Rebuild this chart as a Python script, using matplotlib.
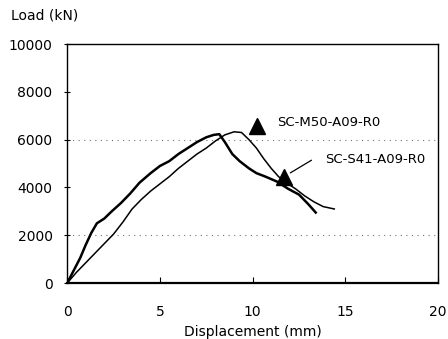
import matplotlib.pyplot as plt

# Curva 1 (pico temprano, mas rigida)
x1 = [0, 0.3, 0.7, 1.0, 1.3, 1.6, 2.0, 2.4, 2.9, 3.4, 3.9, 4.5, 5.0, 5.5, 6.0,
      6.5, 7.0, 7.5, 7.9, 8.2, 8.5, 8.9, 9.3, 9.8, 10.2, 10.7, 11.3, 11.9,
      12.5, 13.0, 13.4]
y1 = [0, 450, 1050, 1600, 2100, 2500, 2700, 3000, 3350, 3750, 4200, 4600,
      4900, 5100, 5400, 5650, 5900, 6100, 6200, 6230, 5900, 5400, 5100, 4800,
      4600, 4450, 4250, 3950, 3700, 3300, 2950]

# Curva 2 (pico tardio)
x2 = [0, 0.5, 1.0, 1.5, 2.0, 2.5, 3.0, 3.5, 4.0, 4.5, 5.0, 5.5, 6.0, 6.5,
      7.0, 7.5, 8.0, 8.5, 9.0, 9.4, 9.8, 10.2, 10.6, 11.0, 11.4, 11.8, 12.3,
      12.8, 13.3, 13.8, 14.4]
y2 = [0, 450, 850, 1250, 1650, 2050, 2550, 3100, 3500, 3850, 4150, 4450,
      4800, 5100, 5400, 5650, 5950, 6200, 6330, 6300, 6000, 5650, 5200, 4800,
      4450, 4200, 3950, 3650, 3400, 3200, 3100]

xticks = [0, 5, 10, 15, 20]
yticks = [0, 2000, 4000, 6000, 8000, 10000]
grid_y = [2000, 6000]

fig = plt.figure(figsize=(4.48, 3.39), dpi=100)
ax = fig.add_axes([0.150, 0.165, 0.828, 0.705])

for g in grid_y:
    ax.axhline(g, color='0.45', lw=0.8, ls=(0, (1, 4)), zorder=0)

ax.plot(x1, y1, color='black', lw=1.8)
ax.plot(x2, y2, color='black', lw=1.1)

# Etiquetas con triangulos
ax.plot([10.25], [6570], marker='^', color='black', ms=11)
ax.text(11.3, 6700, 'SC-M50-A09-R0', fontsize=9.5, va='center',
        family=['Liberation Sans Narrow', 'DejaVu Sans'])
ax.plot([11.7], [4450], marker='^', color='black', ms=11)
ax.annotate('', xy=(11.9, 4550), xytext=(13.3, 5200),
            arrowprops=dict(arrowstyle='-', color='black', lw=0.9))
ax.text(13.9, 5170, 'SC-S41-A09-R0', fontsize=9.5, va='center',
        family=['Liberation Sans Narrow', 'DejaVu Sans'])

ax.set_xlim(0, 20)
ax.set_ylim(0, 10000)
ax.set_xticks(xticks)
ax.set_yticks(yticks)
ax.tick_params(axis='x', direction='in', length=4, pad=16, labelsize=10)
ax.tick_params(axis='y', direction='inout', length=5, pad=8, labelsize=10)
for s in ax.spines.values():
    s.set_linewidth(1.0)
ax.spines['bottom'].set_linewidth(1.6)

ax.set_xlabel('Displacement (mm)', fontsize=10, labelpad=4)
fig.text(0.025, 0.955, 'Load (kN)', fontsize=10, va='center')

plt.savefig('out.png', dpi=100)
